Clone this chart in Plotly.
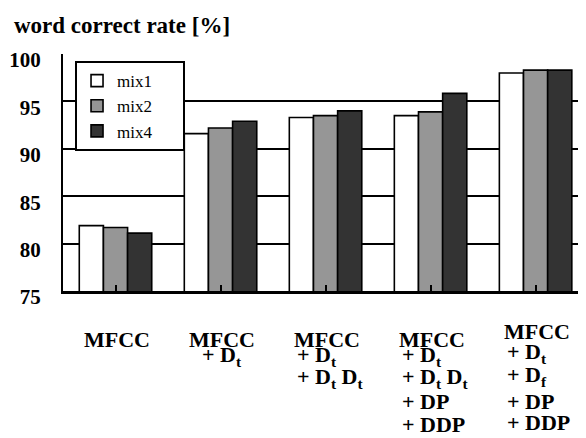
import plotly.graph_objects as go

categories = ["MFCC", "MFCC+Dt", "MFCC+Dt+DtDt", "MFCC+Dt+DtDt+DP+DDP", "MFCC+Dt+Df+DP+DDP"]
label_lines = [
    ["MFCC"],
    ["MFCC", "+ <b>D</b><sub>t</sub>"],
    ["MFCC", "+ <b>D</b><sub>t</sub>", "+ <b>D</b><sub>t</sub> <b>D</b><sub>t</sub>"],
    ["MFCC", "+ <b>D</b><sub>t</sub>", "+ <b>D</b><sub>t</sub> <b>D</b><sub>t</sub>", "+ <b>D</b>P", "+ <b>DD</b>P"],
    ["MFCC", "+ <b>D</b><sub>t</sub>", "+ <b>D</b><sub>f</sub>", "+ <b>D</b>P", "+ <b>DD</b>P"],
]
series_names = ["mix1", "mix2", "mix4"]
mix1 = [81.9, 91.6, 93.3, 93.5, 98.0]
mix2 = [81.7, 92.2, 93.5, 93.9, 98.3]
mix4 = [81.1, 92.9, 94.0, 95.85, 98.3]
y_ticks = [75, 80, 85, 90, 95, 100]

colors = ["#ffffff", "#969696", "#333333"]
FONT = "Liberation Serif"
PAD = "\u00a0" * 6  # right padding inside the legend box

# page has an 8px body margin; figure is sized to fit the 586x438 window
W, H = 578, 430
MT, MB, ML = 46, 147, 55
PLOT_H = H - MT - MB
PLOT_BOTTOM = H - MB

fig = go.Figure()
for name, vals, col in zip(series_names, [mix1, mix2, mix4], colors):
    fig.add_trace(go.Bar(
        x=list(range(len(categories))), y=vals, name=name + PAD,
        marker=dict(color=col, line=dict(color="black", width=1.6)),
    ))

base_std = [346, 363, 385, 408, 431]
base_last = [338, 360, 383, 408, 430]
annotations = []
for gi, lines in enumerate(label_lines):
    bases = base_last if gi == len(label_lines) - 1 else base_std
    for li, txt in enumerate(lines):
        yb = bases[li] - 8
        if li == 0 or gi <= 1:
            xa, xs = "center", 1.5
        else:
            xa, xs = "left", -31
        annotations.append(dict(
            x=gi, xref="x", y=(PLOT_BOTTOM - (yb - 7)) / PLOT_H, yref="paper",
            text="<b>" + txt + "</b>", showarrow=False, xanchor=xa, xshift=xs,
            yanchor="middle", font=dict(family=FONT, size=22, color="black"),
        ))

fig.update_layout(
    width=W, height=H,
    font=dict(family=FONT, color="black"),
    margin=dict(l=ML, r=0, t=MT, b=MB, pad=0),
    paper_bgcolor="white", plot_bgcolor="white",
    barmode="group", bargap=0.31, bargroupgap=0,
    title=dict(text="<b>word correct rate [%]</b>", x=6 / W, xref="container", xanchor="left",
               y=1 - 9 / H, yref="container", yanchor="top",
               font=dict(family=FONT, size=23, color="black")),
    legend=dict(x=0.023, y=0.97, xanchor="left", yanchor="top",
                bordercolor="black", borderwidth=2, bgcolor="white",
                font=dict(family=FONT, size=17, color="black"), tracegroupgap=0),
    annotations=annotations,
    showlegend=True,
)
fig.update_xaxes(
    range=[-0.5, 4.48], showline=True, linecolor="black", linewidth=3,
    showgrid=False, zeroline=False, showticklabels=False,
    ticks="inside", tickson="boundaries", ticklen=6, tickcolor="black", tickwidth=1.5,
    tickvals=list(range(len(categories))),
)
fig.update_yaxes(
    range=[75, 100], tickvals=y_ticks, ticktext=["<b>%d</b>" % v for v in y_ticks],
    showline=True, linecolor="black", linewidth=2,
    showgrid=True, gridcolor="black", gridwidth=1.6, zeroline=False, ticks="",
    ticklabelstandoff=16, ticklabelshift=6,
    tickfont=dict(family=FONT, size=21, color="black"),
)
fig.write_html("out.html")
